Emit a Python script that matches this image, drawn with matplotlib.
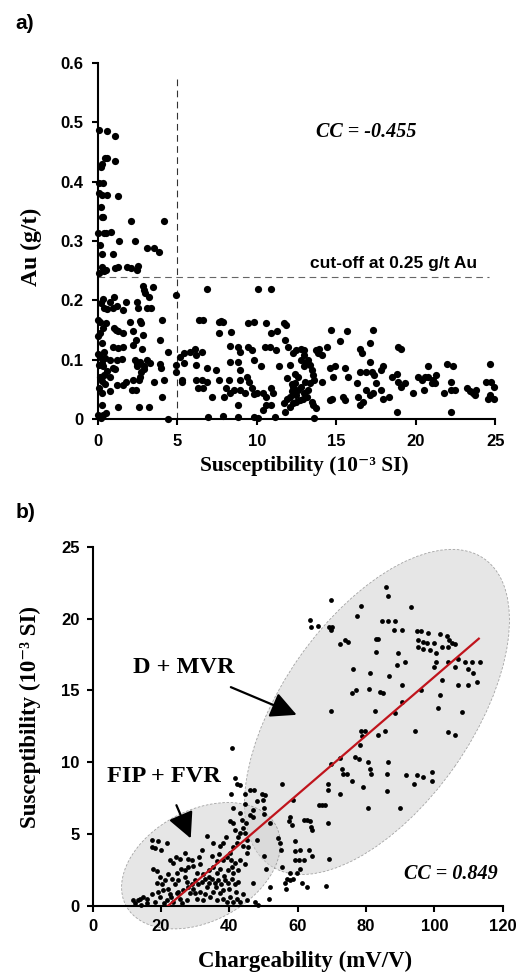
import numpy as np
import matplotlib
matplotlib.use('Agg')
from matplotlib import pyplot as plt
from matplotlib.patches import Ellipse
from matplotlib.transforms import ScaledTranslation


# panel a: susceptibility (10^-3 SI) vs Au (g/t)
a_left = [
    (0.1, 0.486), (0.6, 0.485), (1.1, 0.476),
    (0.3, 0.43), (0.45, 0.44), (0.6, 0.44), (1.1, 0.435), (0.2, 0.425),
    (0.1, 0.398), (0.35, 0.397),
    (0.1, 0.381), (0.25, 0.378), (0.57, 0.377), (1.3, 0.376),
    (0.2, 0.358), (0.25, 0.341), (0.35, 0.341),
    (0.05, 0.313), (0.4, 0.313), (0.55, 0.313), (0.85, 0.316),
    (0.15, 0.293), (0.3, 0.278), (0.95, 0.278),
    (2.1, 0.334), (4.2, 0.334), (1.35, 0.30), (2.35, 0.30),
    (3.1, 0.288), (3.55, 0.288), (3.85, 0.282),
    (0.1, 0.246), (0.25, 0.257), (0.4, 0.25), (0.55, 0.251), (1.1, 0.255), (1.25, 0.257),
    (1.85, 0.257), (2.1, 0.254), (2.5, 0.251), (2.55, 0.258),
    (2.85, 0.225), (3.0, 0.212), (3.5, 0.222), (3.2, 0.205), (2.9, 0.218),
    (0.35, 0.202), (0.2, 0.195), (0.75, 0.197), (1.05, 0.206), (1.8, 0.198), (2.45, 0.198),
    (0.4, 0.187), (0.6, 0.185), (0.95, 0.187), (1.6, 0.184), (2.55, 0.187), (3.1, 0.187),
    (3.35, 0.187), (1.2, 0.19),
    (0.05, 0.167), (4.05, 0.167),
    (0.15, 0.163), (0.55, 0.162), (2.05, 0.163), (2.75, 0.162), (2.65, 0.165),
    (0.35, 0.153), (1.05, 0.153), (1.3, 0.149), (1.6, 0.146), (2.25, 0.148), (1.15, 0.15),
    (0.15, 0.145), (2.85, 0.142), (2.4, 0.133), (3.9, 0.133), (0.05, 0.14),
    (0.25, 0.128), (0.95, 0.122), (1.6, 0.122), (2.25, 0.125), (2.8, 0.119), (0.4, 0.114),
    (1.25, 0.12),
    (0.15, 0.105), (0.45, 0.103), (0.78, 0.10), (1.2, 0.099), (1.5, 0.101), (2.35, 0.10),
    (2.65, 0.097), (3.1, 0.099), (3.3, 0.094), (3.9, 0.093), (4.45, 0.114), (0.05, 0.11),
    (0.3, 0.095), (2.5, 0.093), (2.9, 0.085), (2.7, 0.08),
    (0.1, 0.091), (0.35, 0.089), (0.95, 0.086), (2.45, 0.089), (2.9, 0.09), (4.0, 0.086),
    (0.6, 0.082), (1.1, 0.085),
    (0.15, 0.072), (0.78, 0.072), (2.65, 0.072), (0.4, 0.075),
    (1.8, 0.063), (2.25, 0.066), (2.6, 0.066), (3.55, 0.063), (4.2, 0.066), (0.25, 0.065),
    (1.2, 0.058), (1.6, 0.058), (0.45, 0.06),
    (0.1, 0.052), (0.78, 0.047), (2.15, 0.049), (2.4, 0.049), (0.3, 0.045),
    (4.05, 0.037),
    (0.3, 0.024), (1.25, 0.020), (2.6, 0.020), (3.2, 0.020),
    (0.0, 0.007), (0.35, 0.007), (0.55, 0.011), (0.2, 0.003), (4.4, 0.0),
]

a_right = [
    (4.95, 0.209), (6.9, 0.219), (10.1, 0.219), (10.9, 0.219),
    (4.95, 0.091), (4.95, 0.08), (5.2, 0.105), (5.45, 0.112), (5.8, 0.114), (6.15, 0.119),
    (6.55, 0.114), (6.2, 0.108), (5.4, 0.094), (5.3, 0.066), (6.2, 0.091), (5.3, 0.062),
    (6.4, 0.167), (6.6, 0.167),
    (7.6, 0.163), (7.9, 0.164), (7.65, 0.146), (8.4, 0.147), (7.75, 0.165),
    (8.3, 0.123), (8.85, 0.122), (8.95, 0.114), (9.45, 0.122), (9.7, 0.117), (9.45, 0.162),
    (9.8, 0.163), (10.6, 0.162), (10.9, 0.146), (11.25, 0.149), (11.7, 0.162), (11.85, 0.159),
    (11.75, 0.133), (12.0, 0.122),
    (10.5, 0.122), (10.85, 0.122), (11.2, 0.117), (10.3, 0.09), (11.4, 0.09),
    (6.85, 0.086), (7.45, 0.083), (8.3, 0.097), (8.8, 0.097), (8.95, 0.083), (9.4, 0.072),
    (9.85, 0.099),
    (6.2, 0.066), (6.55, 0.066), (6.85, 0.063), (7.6, 0.066), (8.25, 0.066), (8.95, 0.066),
    (9.5, 0.063),
    (6.3, 0.052), (6.6, 0.052), (8.1, 0.052), (8.55, 0.049), (8.95, 0.049), (9.7, 0.052),
    (10.0, 0.044), (9.25, 0.044), (8.35, 0.044), (7.95, 0.038), (7.2, 0.038), (9.8, 0.043),
    (10.4, 0.044), (10.6, 0.038), (10.9, 0.052), (11.05, 0.044),
    (8.85, 0.024), (10.6, 0.024), (10.9, 0.024), (10.4, 0.016),
    (6.95, 0.004), (7.85, 0.006), (8.8, 0.004), (9.85, 0.004), (10.1, 0.003), (11.15, 0.004),
    (13.6, 0.002),
    (11.7, 0.027), (11.9, 0.035), (12.1, 0.038), (12.2, 0.047), (12.3, 0.055), (12.4, 0.061),
    (12.5, 0.041), (12.6, 0.049), (12.7, 0.033), (12.8, 0.055), (12.95, 0.044), (13.05, 0.063),
    (13.15, 0.038), (12.6, 0.072), (11.9, 0.069), (12.3, 0.027), (12.1, 0.021), (11.8, 0.013),
    (13.45, 0.030), (13.75, 0.019), (13.55, 0.024), (12.4, 0.077), (12.1, 0.091),
    (13.35, 0.061), (13.6, 0.066), (13.25, 0.049), (12.5, 0.03), (12.9, 0.035), (12.2, 0.06),
    (12.3, 0.111), (12.5, 0.117), (12.8, 0.119), (13.0, 0.117), (13.0, 0.108), (13.25, 0.1),
    (13.35, 0.091), (13.45, 0.083), (13.55, 0.075), (12.8, 0.1), (13.1, 0.094), (12.95, 0.089),
    (13.75, 0.117), (13.95, 0.119), (13.85, 0.111), (14.1, 0.108), (14.4, 0.122),
    (14.7, 0.15), (15.65, 0.149), (15.25, 0.131), (14.1, 0.062), (14.6, 0.086), (14.95, 0.089),
    (14.8, 0.072), (15.55, 0.086), (15.75, 0.072), (14.6, 0.033), (14.75, 0.035),
    (15.45, 0.037), (15.55, 0.033),
    (16.5, 0.119), (16.6, 0.111), (17.1, 0.128), (17.3, 0.15), (16.3, 0.061), (16.5, 0.08),
    (16.9, 0.08), (17.25, 0.08), (17.1, 0.097), (16.4, 0.038), (16.5, 0.024), (16.7, 0.03),
    (16.9, 0.049), (17.1, 0.041), (17.3, 0.044), (17.4, 0.075), (17.5, 0.061), (17.85, 0.083),
    (17.95, 0.089), (17.85, 0.049), (18.3, 0.038), (17.95, 0.035),
    (18.9, 0.122), (19.1, 0.119), (18.5, 0.072), (18.85, 0.077), (18.9, 0.063), (19.1, 0.055),
    (19.3, 0.061), (18.85, 0.013), (19.85, 0.044),
    (20.15, 0.072), (20.4, 0.067), (20.6, 0.072), (20.75, 0.089), (20.8, 0.072), (20.5, 0.049),
    (21.1, 0.066), (21.3, 0.075), (21.0, 0.061), (21.2, 0.061),
    (21.95, 0.093), (22.35, 0.089), (21.75, 0.044), (22.2, 0.063), (22.25, 0.049),
    (22.45, 0.049), (22.2, 0.012), (23.2, 0.052), (23.4, 0.047), (23.6, 0.044), (23.8, 0.049),
    (23.7, 0.041), (24.65, 0.093), (24.45, 0.063), (24.75, 0.063), (24.95, 0.055),
    (24.65, 0.041), (24.55, 0.035), (24.95, 0.035),
]

# panel b: chargeability (mV/V) vs susceptibility (10^-3 SI)
b_upper = [
    (69.8, 21.3), (78.4, 20.9), (85.8, 22.2), (86.5, 21.6), (93.1, 20.8), (77.5, 20.2),
    (63.6, 19.9), (63.8, 19.4), (65.8, 19.5), (69.3, 19.4), (70.1, 19.4), (69.8, 19.2),
    (84.6, 19.8), (86.5, 19.8), (88.5, 19.8), (88.3, 19.2), (90.4, 19.2),
    (72.4, 18.2), (73.9, 18.5), (74.8, 18.4),
    (82.9, 18.6), (83.6, 18.6), (82.9, 17.7), (89.5, 17.6), (91.4, 17.0),
    (94.8, 19.1), (96.0, 19.1), (98.2, 19.0), (95.1, 18.5), (96.6, 18.4), (97.8, 18.3),
    (99.8, 18.3), (101.7, 18.9), (103.6, 18.8), (104.4, 18.5), (105.1, 18.3), (104.1, 18.0),
    (102.1, 18.0), (100.6, 17.6), (98.6, 17.8), (96.6, 17.9), (95.1, 18.0), (106.1, 18.2),
    (107.0, 17.2), (109.0, 17.0), (110.9, 17.0), (109.9, 16.5), (111.4, 16.2), (113.4, 17.0),
    (112.6, 15.6), (109.9, 15.4), (107.0, 15.4), (108.0, 13.5), (106.0, 16.6), (104.1, 17.0),
    (100.6, 17.0), (102.1, 15.7), (99.8, 16.6), (101.7, 14.7), (101.2, 13.8), (104.1, 12.1),
    (106.1, 11.9), (99.2, 9.3), (99.4, 8.7), (96.0, 15.0),
    (89.0, 16.8), (86.8, 16.0), (81.2, 16.2), (76.1, 16.5), (75.8, 14.8), (77.1, 15.0),
    (81.0, 15.1), (84.1, 14.9), (85.1, 14.8), (90.4, 15.4), (90.4, 14.2), (69.8, 13.6),
    (82.6, 13.6), (88.5, 13.4),
    (78.4, 12.2), (79.7, 12.2), (78.7, 11.8), (78.2, 11.2), (83.6, 11.9), (85.6, 12.2),
    (94.3, 12.2),
    (72.4, 10.3), (76.8, 10.4), (77.8, 10.2), (80.7, 10.0), (86.5, 10.0), (69.8, 9.9),
    (72.9, 9.5), (74.3, 9.2), (73.4, 9.2), (75.8, 8.7), (81.2, 9.5), (81.4, 9.2), (86.0, 9.2),
    (91.7, 9.1), (94.8, 9.1), (96.8, 9.0),
    (79.2, 8.3), (68.9, 8.5), (72.4, 7.8), (86.0, 8.0), (93.9, 8.5), (80.7, 6.8), (90.0, 6.8),
    (68.9, 8.1), (66.2, 7.0), (67.0, 7.0), (68.0, 7.0), (69.0, 5.8), (69.3, 3.3), (68.3, 1.4),
]

b_middle = [
    (61.7, 6.0), (62.7, 6.0), (63.8, 5.5), (63.6, 5.9), (64.1, 5.3), (64.1, 3.5), (63.4, 3.9),
    (60.8, 3.9), (59.2, 4.5), (59.2, 3.8), (59.2, 3.2), (60.5, 3.2), (61.7, 3.2), (60.7, 2.6),
    (61.3, 1.6), (62.6, 1.3), (59.7, 2.3), (58.7, 1.9), (57.8, 2.3), (56.8, 1.9), (56.3, 1.6),
    (56.6, 1.2), (57.8, 1.8), (55.5, 2.7), (55.0, 3.9), (54.8, 4.4), (54.3, 4.7), (57.5, 5.9),
    (57.8, 6.2), (55.3, 8.5), (58.2, 5.6), (58.7, 7.4),
    (51.9, 5.8), (50.0, 6.4), (51.9, 1.3), (51.7, 0.5), (50.7, 2.6), (50.0, 3.5), (48.0, 4.6),
    (40.7, 11.0), (41.7, 8.9), (42.1, 8.5), (43.1, 8.4), (40.6, 7.8), (44.6, 7.8), (46.0, 8.1),
    (47.2, 8.1), (49.5, 7.8), (50.4, 7.7), (49.9, 7.4), (48.0, 7.3), (44.6, 7.1), (47.0, 6.7),
    (50.0, 6.8), (45.9, 6.3), (47.0, 6.2), (40.2, 5.9),
]

b_lower = [
    (17.3, 4.6), (19.2, 4.5), (21.7, 4.4), (18.1, 4.0), (20.1, 3.9), (17.3, 4.1),
    (24.4, 3.4), (25.6, 3.3), (27.0, 3.7), (28.0, 3.3), (29.0, 3.2), (31.9, 3.9), (33.4, 4.9),
    (35.3, 4.4), (37.3, 4.2), (38.2, 4.4),
    (17.8, 2.6), (18.7, 2.4), (19.7, 2.0), (22.1, 2.2), (23.1, 1.9), (24.6, 2.3), (25.9, 2.6),
    (27.0, 2.5), (28.0, 2.7), (30.4, 2.3), (31.4, 2.9), (32.4, 2.2), (33.9, 2.5), (35.3, 2.7),
    (36.3, 3.1), (37.3, 2.6), (38.2, 3.2), (39.2, 3.4), (40.2, 3.7), (41.2, 4.1), (42.1, 4.4),
    (42.6, 4.8), (43.1, 5.1), (44.1, 5.4), (44.6, 5.1), (45.1, 4.6), (45.6, 4.1), (45.1, 3.7),
    (43.1, 3.2), (41.7, 3.0), (40.7, 2.7), (39.7, 2.5), (41.2, 2.3),
    (11.9, 0.4), (13.2, 0.4), (13.9, 0.5), (14.8, 0.6), (15.8, 0.5), (17.3, 0.8), (18.2, 0.3),
    (19.7, 0.6), (20.7, 1.1), (21.7, 0.4), (22.6, 0.8), (23.6, 0.3), (24.6, 0.9), (25.6, 0.5),
    (26.5, 1.1), (27.5, 0.4), (28.5, 0.9), (29.5, 1.2), (30.4, 0.5), (31.4, 1.0), (32.4, 0.4),
    (33.4, 1.3), (34.3, 0.6), (35.3, 1.0), (36.3, 0.4), (37.3, 0.9), (38.2, 0.5), (39.2, 0.3),
    (40.2, 0.6), (41.2, 0.3), (42.1, 0.5), (43.1, 0.3), (45.1, 0.4), (47.5, 0.3), (48.5, 0.1),
    (18.7, 1.6), (20.2, 1.5), (21.2, 1.8), (24.1, 1.5), (25.1, 1.8), (27.5, 1.7), (29.0, 1.5),
    (29.9, 1.8), (30.9, 1.5), (31.9, 1.7), (32.9, 1.9), (33.9, 1.6), (34.8, 1.9), (35.8, 1.6),
    (36.8, 1.8), (37.7, 1.5), (38.7, 1.8), (39.7, 1.6), (40.7, 1.9), (41.7, 1.5), (42.6, 1.7),
    (47.0, 1.6), (22.6, 3.2), (23.6, 3.0), (41.7, 5.3), (41.2, 5.8), (43.6, 6.0),
    (16.0, 0.2), (19.0, 1.0), (22.0, 1.2), (26.0, 0.2), (28.0, 1.3), (30.0, 0.9), (33.0, 0.8),
    (36.0, 1.3), (38.0, 1.1), (40.0, 1.2), (42.0, 1.0), (44.0, 0.8), (35.0, 3.5), (37.0, 3.6),
    (39.0, 4.8), (41.0, 6.8), (43.0, 6.5), (44.0, 4.2), (45.0, 5.8), (34.0, 2.0), (36.5, 2.3),
    (38.5, 2.1), (40.5, 3.2), (42.5, 2.5), (44.5, 2.9), (31.0, 3.4), (29.5, 2.8), (27.0, 2.0),
    (25.0, 1.0), (23.0, 0.6), (21.0, 0.2), (14.0, 0.1), (12.5, 0.2),
]

# trend line of panel b
fit_x = [22, 113]
fit_y = [0.0, 18.6]

a_pts = np.array(a_left + a_right)
b_pts = np.array(b_upper + b_middle + b_lower)

sans = 'Liberation Sans'
serif = ['Liberation Serif', 'DejaVu Serif']

fig = plt.figure(figsize=(5.23, 9.75), dpi=100)


def style_axes(ax, pad):
    for side in ('top', 'right'):
        ax.spines[side].set_visible(False)
    for side in ('left', 'bottom'):
        ax.spines[side].set_linewidth(1.5)
    ax.tick_params(direction='out', length=4.5, width=1.5, labelsize=12, pad=pad)
    for lab in ax.get_xticklabels() + ax.get_yticklabels():
        lab.set_fontfamily(sans)
        lab.set_fontweight('bold')


# ---- panel a ----
ax1 = fig.add_axes([0.1868, 0.5699, 0.760, 0.3658])
ax1.scatter(a_pts[:, 0], a_pts[:, 1], s=27, c='black', linewidths=0, zorder=3, clip_on=False)
ax1.plot([5, 5], [0, 0.58], ls=(0, (6, 4)), color='#333333', lw=0.8)
ax1.plot([0, 24.6], [0.24, 0.24], ls=(0, (6, 4)), color='#666666', lw=0.8)
ax1.set_xlim(0, 25)
ax1.set_ylim(0, 0.6)
ax1.set_xticks([0, 5, 10, 15, 20, 25])
ax1.set_yticks([0, 0.1, 0.2, 0.3, 0.4, 0.5, 0.6])
ax1.set_yticklabels(['0', '0.1', '0.2', '0.3', '0.4', '0.5', '0.6'])
style_axes(ax1, 6)
ax1.set_xlabel('Susceptibility (10⁻³ SI)', fontfamily=serif, fontweight='bold', fontsize=15.5)
ax1.xaxis.set_label_coords(0.521, -0.131)
ax1.xaxis.label.set_va('center')
ax1.set_ylabel('Au (g/t)', fontfamily=serif, fontweight='bold', fontsize=17)
ax1.yaxis.set_label_coords(-0.166, 0.483)
ax1.yaxis.label.set_va('center')
ax1.text(16.9, 0.484, 'CC = -0.455', fontfamily=serif, fontstyle='italic',
         fontweight='bold', fontsize=14.5, ha='center', va='center')
ax1.text(18.6, 0.262, 'cut-off at 0.25 g/t Au', fontfamily=sans, fontweight='bold',
         fontsize=12.5, ha='center', va='center')
fig.text(0.029, 0.976, 'a)', fontfamily=sans, fontweight='bold', fontsize=15,
         ha='left', va='center')

# ---- panel b ----
ax2 = fig.add_axes([0.1772, 0.0708, 0.784, 0.3685])
big = Ellipse((0, 0), 3.74, 1.90, angle=55, facecolor='#cfcfcf', alpha=0.5,
              edgecolor='#555555', lw=0.6, ls=(0, (3, 2)), zorder=1, clip_on=False,
              transform=fig.dpi_scale_trans + ScaledTranslation(83.2, 13.5, ax2.transData))
small = Ellipse((0, 0), 1.70, 1.11, angle=28, facecolor='#cfcfcf', alpha=0.5,
                edgecolor='#555555', lw=0.6, ls=(0, (3, 2)), zorder=1, clip_on=False,
                transform=fig.dpi_scale_trans + ScaledTranslation(31.7, 2.8, ax2.transData))
ax2.add_patch(big)
ax2.add_patch(small)
ax2.scatter(b_pts[:, 0], b_pts[:, 1], s=12, c='black', linewidths=0, zorder=3, clip_on=False)
ax2.plot(fit_x, fit_y, color='#c0141c', lw=1.6, zorder=4)
ax2.set_xlim(0, 120)
ax2.set_ylim(0, 25)
ax2.set_xticks([0, 20, 40, 60, 80, 100, 120])
ax2.set_yticks([0, 5, 10, 15, 20, 25])
style_axes(ax2, 5)
ax2.set_xlabel('Chargeability (mV/V)', fontfamily=serif, fontweight='bold', fontsize=16.5)
ax2.xaxis.set_label_coords(0.518, -0.155)
ax2.xaxis.label.set_va('center')
ax2.set_ylabel('Susceptibility (10⁻³ SI)', fontfamily=serif, fontweight='bold',
               fontsize=16.5)
ax2.yaxis.set_label_coords(-0.153, 0.526)
ax2.yaxis.label.set_va('center')
ax2.text(104.9, 2.2, 'CC = 0.849', fontfamily=serif, fontstyle='italic',
         fontweight='bold', fontsize=14.5, ha='center', va='center')
ax2.annotate('D + MVR', xy=(59.7, 13.3), xytext=(26.7, 16.6), fontfamily=serif,
             fontweight='bold', fontsize=17.5, ha='center', va='center',
             arrowprops=dict(arrowstyle='-|>,head_length=0.9,head_width=0.45',
                             color='black', lw=1.6, shrinkA=12, shrinkB=0))
ax2.annotate('FIP + FVR', xy=(28.7, 4.7), xytext=(20.9, 9.0), fontfamily=serif,
             fontweight='bold', fontsize=17.5, ha='center', va='center',
             arrowprops=dict(arrowstyle='-|>,head_length=0.9,head_width=0.45',
                             color='black', lw=1.6, shrinkA=12, shrinkB=0))
fig.text(0.029, 0.474, 'b)', fontfamily=sans, fontweight='bold', fontsize=15,
         ha='left', va='center')

fig.savefig('out.png', dpi=100, facecolor='white')
